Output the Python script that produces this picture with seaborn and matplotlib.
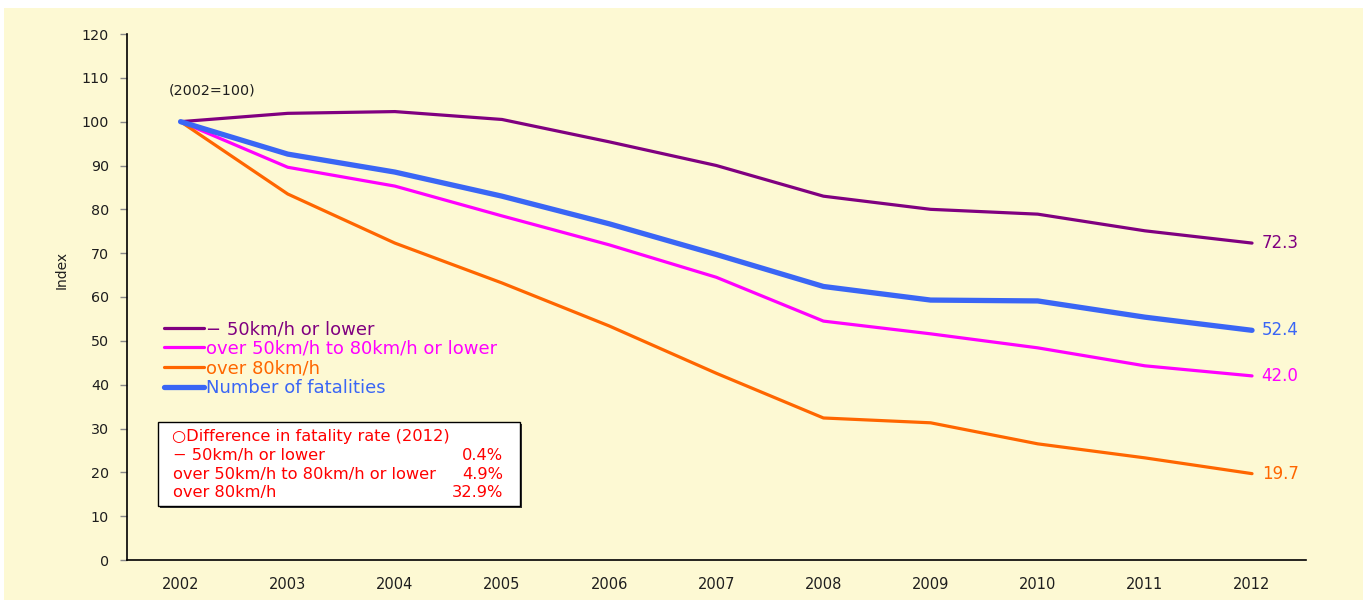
import matplotlib
matplotlib.use("Agg")
import matplotlib.pyplot as plt
from matplotlib.patches import Rectangle
import seaborn as sns
import pandas as pd

# Fatality index by speed band (2002 = 100)
years = ["2002", "2003", "2004", "2005", "2006", "2007", "2008", "2009", "2010", "2011", "2012"]
low_speed = [100, 101.9, 102.3, 100.5, 95.4, 90.0, 83.0, 80.0, 78.9, 75.1, 72.3]
mid_speed = [100, 89.6, 85.3, 78.5, 71.9, 64.5, 54.5, 51.6, 48.4, 44.3, 42.0]
high_speed = [100, 83.5, 72.3, 63.2, 53.4, 42.6, 32.4, 31.3, 26.5, 23.3, 19.7]
fatalities = [100, 92.6, 88.5, 83.0, 76.7, 69.7, 62.4, 59.3, 59.1, 55.4, 52.4]

series_names = ["− 50km/h or lower", "over 50km/h to 80km/h or lower",
                "over 80km/h", "Number of fatalities"]
series_values = [low_speed, mid_speed, high_speed, fatalities]
end_labels = ["72.3", "42.0", "19.7", "52.4"]

diff_title = "○Difference in fatality rate (2012)"
diff_bands = ["− 50km/h or lower", "over 50km/h to 80km/h or lower", "over 80km/h"]
diff_values = ["0.4%", "4.9%", "32.9%"]

colors = ["#800080", "#FF00FF", "#FF6600", "#3A66F5"]
widths = [2.3, 2.3, 2.3, 3.8]
bg = "#FDF9D3"
ink = "#1E1E1E"

sns.set_theme(style="white")
plt.rcParams["font.family"] = ["DejaVu Sans"]

W, H = 1371, 602
fig = plt.figure(figsize=(W / 100, H / 100), dpi=100, facecolor="white")
fig.patches.append(Rectangle((4 / W, 1 - 600 / H), (1363 - 4) / W, (600 - 8) / H,
                             transform=fig.transFigure, facecolor=bg,
                             edgecolor="none", zorder=-1))

ax = fig.add_axes([127 / W, 1 - 560 / H, (1305.6 - 127) / W, (560 - 34) / H])
ax.patch.set_alpha(0)

df = pd.DataFrame({"year": years})
df["pos"] = range(len(years))
for name, vals, c, lw in zip(series_names, series_values, colors, widths):
    df["value"] = vals
    sns.lineplot(data=df, x="pos", y="value", color=c, linewidth=lw,
                 label=name, ax=ax, solid_capstyle="round", solid_joinstyle="round")

# value labels at the 2012 end of each line
for vals, lab, c in zip(series_values, end_labels, colors):
    ax.annotate(lab, xy=(len(years) - 1, vals[-1]), xytext=(7, 0),
                textcoords="offset points", ha="left", va="center",
                color=c, fontsize=12)

ax.set_xlim(-0.5, len(years) - 0.5)
ax.set_ylim(0, 120)
ax.set_yticks(range(0, 121, 10))
ax.set_xticks(range(len(years)))
ax.set_xticklabels(years)
ax.set_xticks([i - 0.5 for i in range(len(years) + 1)], minor=True)
ax.tick_params(axis="x", which="major", length=0, pad=12, labelsize=10.5, labelcolor=ink)
ax.tick_params(axis="x", which="minor", direction="in", length=5, color="#888888", width=1)
ax.tick_params(axis="y", direction="out", length=5, color="#888888", width=1,
               pad=8, labelsize=10.3, labelcolor=ink, left=True)
ax.set_xlabel("")
ax.set_ylabel("")
for s in ["top", "right"]:
    ax.spines[s].set_visible(False)
for s in ["left", "bottom"]:
    ax.spines[s].set_color("black")
    ax.spines[s].set_linewidth(1.2)

fig.text(62 / W, 1 - 270 / H, "Index", rotation=90, ha="center", va="center",
         fontsize=10, color=ink)
ax.text(-0.11, 107.0, "(2002=100)", ha="left", va="center", fontsize=10.3, color=ink)

leg = ax.legend(loc="upper left", bbox_to_anchor=((164 - 127) / (1305.6 - 127), (560 - 320) / (560 - 34)),
                frameon=False, fontsize=13, handlelength=2.2, handletextpad=0.15,
                labelspacing=0.1, borderpad=0, borderaxespad=0)
for txt, c in zip(leg.get_texts(), colors):
    txt.set_color(c)

# boxed note on fatality-rate differences
fig.patches.append(Rectangle((160 / W, 1 - 508 / H), (522 - 160) / W, (508 - 424) / H,
                             transform=fig.transFigure, facecolor="#333333",
                             edgecolor="none", zorder=1))
fig.patches.append(Rectangle((158 / W, 1 - 506 / H), (520 - 158) / W, (506 - 422) / H,
                             transform=fig.transFigure, facecolor="white",
                             edgecolor="black", linewidth=1.0, zorder=2))
fig.text(172 / W, 1 - 437 / H, diff_title, color="#FF0000", fontsize=11.7,
         ha="left", va="center", zorder=3)
for i, (band, val) in enumerate(zip(diff_bands, diff_values)):
    y = 1 - (455.5 + i * 18.7) / H
    fig.text(173 / W, y, band, color="#FF0000", fontsize=11.7, ha="left", va="center", zorder=3)
    fig.text(503 / W, y, val, color="#FF0000", fontsize=11.7, ha="right", va="center", zorder=3)

fig.savefig("out.png", dpi=100, facecolor="white")
